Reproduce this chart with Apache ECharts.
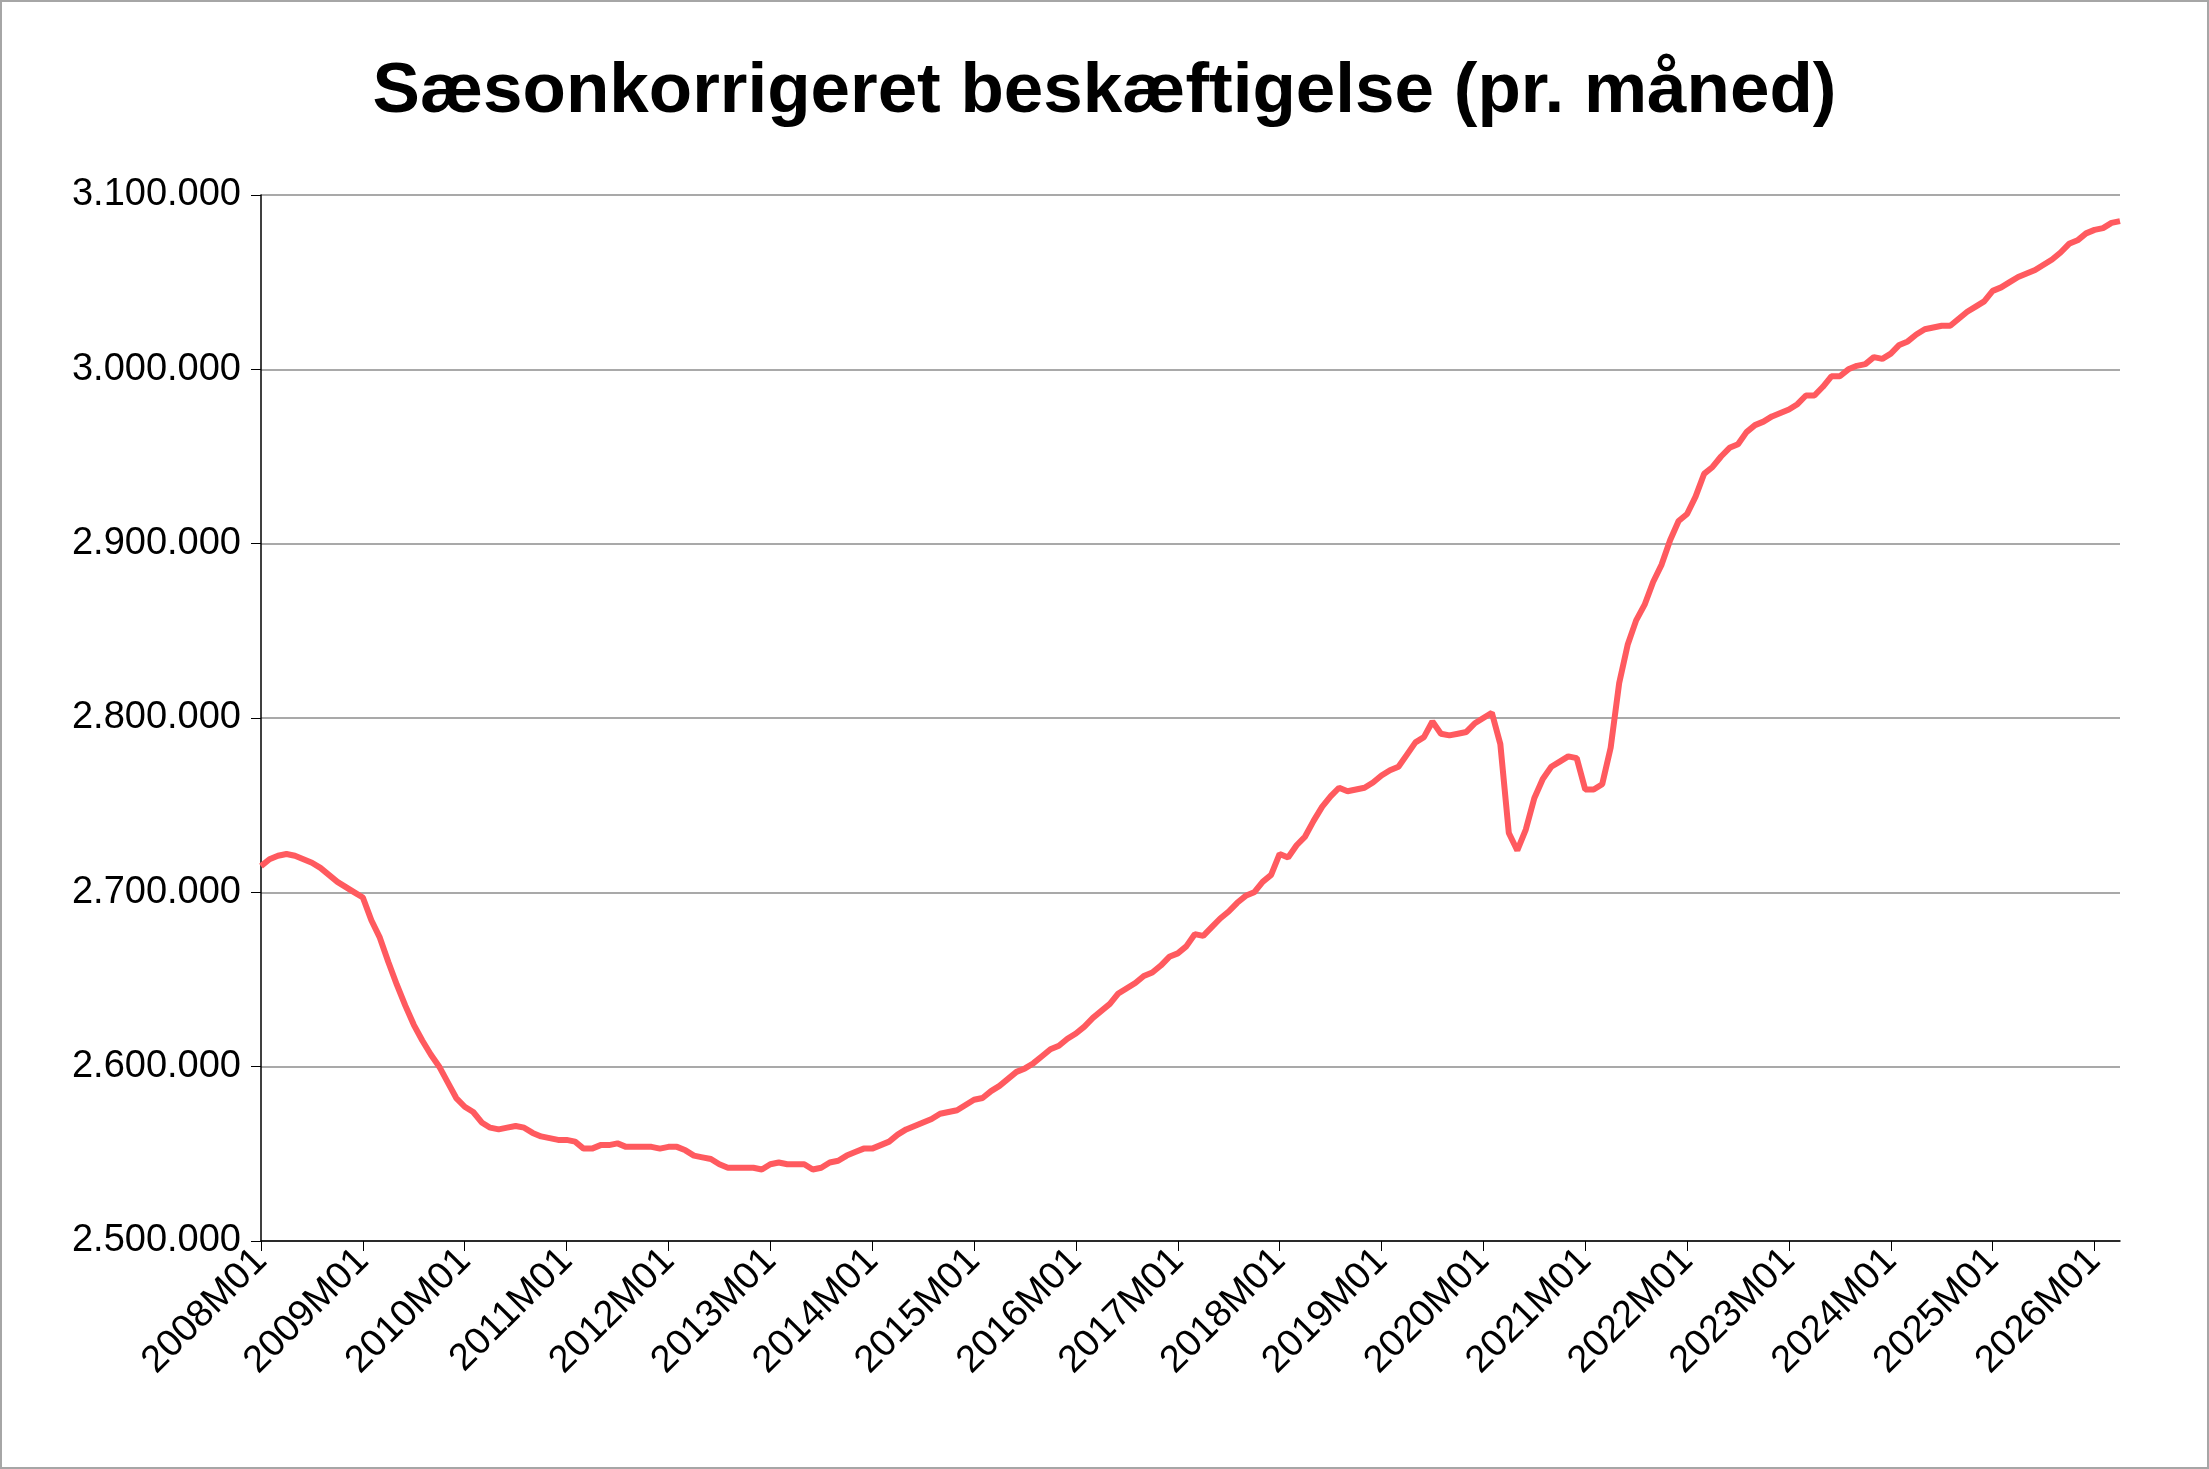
<!DOCTYPE html>
<html><head><meta charset="utf-8">
<script src="https://cdn.jsdelivr.net/npm/echarts@6/dist/echarts.min.js"></script>
<style>html,body{margin:0;padding:0;background:#fff}#c{width:2209px;height:1469px;box-sizing:border-box;border:2px solid #a6a6a6}</style>
</head><body><div id="c"></div>
<script>
const years = [];
for (let y = 2008; y <= 2026; y++) years.push(y);
const categories = [];
years.forEach(y => { for (let m = 1; m <= 12; m++) { if (y === 2026 && m > 4) break; categories.push(y + 'M' + String(m).padStart(2, '0')); } });
// thousands
const v2008 = [2715,2719,2721,2722,2721,2719,2717,2714,2710,2706,2703,2700];
const v2009 = [2697,2684,2674,2660,2647,2635,2624,2615,2607,2600,2591,2582];
const v2010 = [2577,2574,2568,2565,2564,2565,2566,2565,2562,2560,2559,2558];
const v2011 = [2558,2557,2553,2553,2555,2555,2556,2554,2554,2554,2554,2553];
const v2012 = [2554,2554,2552,2549,2548,2547,2544,2542,2542,2542,2542,2541];
const v2013 = [2544,2545,2544,2544,2544,2541,2542,2545,2546,2549,2551,2553];
const v2014 = [2553,2555,2557,2561,2564,2566,2568,2570,2573,2574,2575,2578];
const v2015 = [2581,2582,2586,2589,2593,2597,2599,2602,2606,2610,2612,2616];
const v2016 = [2619,2623,2628,2632,2636,2642,2645,2648,2652,2654,2658,2663];
const v2017 = [2665,2669,2676,2675,2680,2685,2689,2694,2698,2700,2706,2710];
const v2018 = [2722,2720,2727,2732,2741,2749,2755,2760,2758,2759,2760,2763];
const v2019 = [2767,2770,2772,2779,2786,2789,2798,2791,2790,2791,2792,2797];
const v2020 = [2800,2803,2785,2734,2724,2736,2754,2765,2772,2775,2778,2777];
const v2021 = [2759,2759,2762,2783,2820,2842,2856,2865,2878,2888,2902,2913];
const v2022 = [2917,2927,2940,2944,2950,2955,2957,2964,2968,2970,2973,2975];
const v2023 = [2977,2980,2985,2985,2990,2996,2996,3000,3002,3003,3007,3006];
const v2024 = [3009,3014,3016,3020,3023,3024,3025,3025,3029,3033,3036,3039];
const v2025 = [3045,3047,3050,3053,3055,3057,3060,3063,3067,3072,3074,3078];
const v2026 = [3080,3081,3084,3085];
const values = [].concat(v2008,v2009,v2010,v2011,v2012,v2013,v2014,v2015,v2016,v2017,v2018,v2019,v2020,v2021,v2022,v2023,v2024,v2025,v2026).map(v => v * 1000);
const chart = echarts.init(document.getElementById('c'));
const font = 'Liberation Sans';
chart.setOption({
  animation: false,
  title: { text: 'Sæsonkorrigeret beskæftigelse (pr. måned)', left: 'center', top: 50,
    textStyle: { fontFamily: font, fontWeight: 'bold', fontSize: 71, color: '#000' } },
  grid: { left: 259, right: 87, top: 193, bottom: 226 },
  xAxis: { type: 'category', data: categories, boundaryGap: false,
    axisLine: { lineStyle: { color: '#000', width: 1.5 } },
    axisTick: { length: 10, lineStyle: { color: '#000' }, interval: (i, v) => v.endsWith('M01') },
    axisLabel: { rotate: 45, fontFamily: font, fontSize: 38, color: '#000', margin: 14,
      interval: (i, v) => v.endsWith('M01') } },
  yAxis: { type: 'value', min: 2500000, max: 3100000, interval: 100000,
    axisLine: { show: true, lineStyle: { color: '#000', width: 1.5 } },
    axisTick: { show: true, length: 10, lineStyle: { color: '#000' } },
    splitLine: { lineStyle: { color: '#8c8c8c', width: 1.5 } },
    axisLabel: { fontFamily: font, fontSize: 38, color: '#000', margin: 20,
      formatter: v => String(v).replace(/\B(?=(\d{3})+(?!\d))/g, '.') } },
  series: [{ type: 'line', data: values, showSymbol: false,
    lineStyle: { color: '#FF5A5F', width: 6 } }]
});
</script></body></html>
